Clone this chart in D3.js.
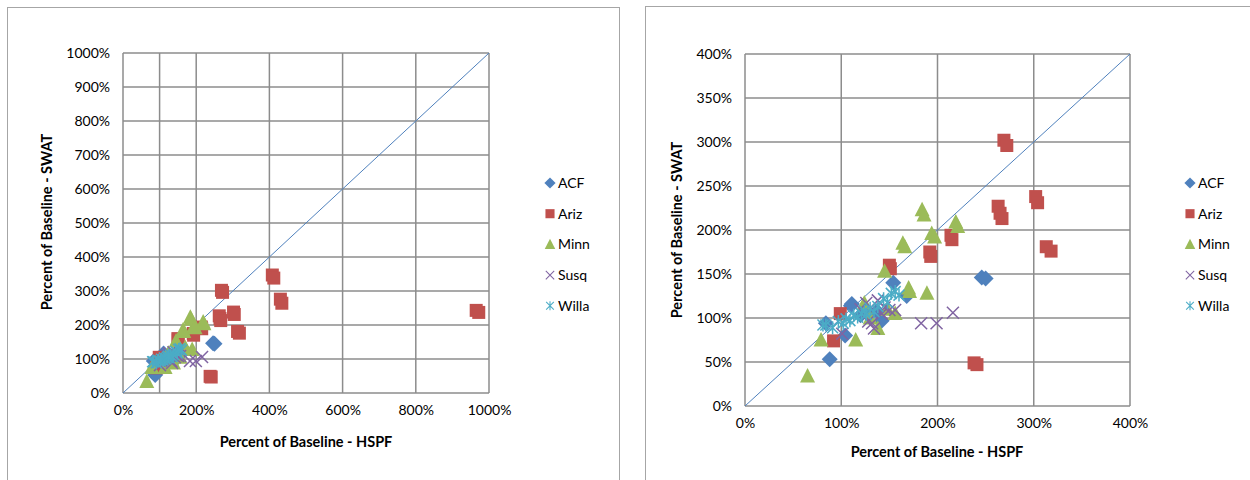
<!DOCTYPE html>
<html>
<head>
<meta charset="utf-8">
<script src="https://d3js.org/d3.v7.min.js"></script>
<style>
  body { margin: 0; background: #fff; }
  svg { font-family: Lato, "Open Sans", sans-serif; }
</style>
</head>
<body>
<svg id="chart" width="1250" height="480"></svg>
<script>
// values are percent of baseline, [HSPF, SWAT]
var seriesNames = ["ACF", "Ariz", "Minn", "Susq", "Willa"];
var seriesColors = ["#4F81BD", "#C0504D", "#9BBB59", "#8064A2", "#4BACC6"];

var acf = [[88,53],[84,94],[104,80],[111,116],[110,114],[154,140],[142,97],[137,108],[168,125],[246,146],[250,145],[120,103],[130,105]];
var ariz = [[269,302],[272,296],[302,238],[304,231],[263,227],[265,219],[267,213],[313,181],[318,176],[214,194],[215,189],[192,175],[193,170],[150,160],[151,156],[99,105],[92,74],[238,49],[241,47],[408,347],[412,338],[430,276],[434,264],[965,243],[972,237]];
var minn = [[65,34],[79,75],[115,75],[124,117],[145,153],[164,185],[166,181],[184,223],[186,217],[194,196],[197,192],[219,209],[221,204],[170,134],[171,130],[189,128],[138,88],[156,105],[130,100],[148,110]];
var susq = [[183,94],[199,94],[216,106],[132,94],[134,88],[150,109],[156,109],[142,105],[126,117],[101,82],[138,120],[120,110],[145,112],[128,96]];
var willa = [[81,92],[84,92],[91,89],[97,96],[105,99],[109,97],[113,103],[117,101],[121,105],[126,104],[130,111],[134,107],[138,113],[144,122],[148,118],[152,128],[156,130],[160,126],[102,94],[124,108]];

var leftXTicks = [0, 200, 400, 600, 800, 1000];
var leftXGrid = [0, 100, 200, 400, 600, 800, 1000];
var leftYTicks = [0, 100, 200, 300, 400, 500, 600, 700, 800, 900, 1000];
var rightXTicks = [0, 100, 200, 300, 400];
var rightYTicks = [0, 50, 100, 150, 200, 250, 300, 350, 400];

var allSeries = [acf, ariz, minn, susq, willa];
var svg = d3.select("#chart");

function markerPath(i) {
    if (i == 0) return "M0,-8L8,0L0,8L-8,0Z";
    if (i == 1) return "M-6.5,-6.5H6.5V6.5H-6.5Z";
    if (i == 2) return "M0,-8L7.5,6.5H-7.5Z";
    if (i == 3) return "M-6,-6L6,6M6,-6L-6,6";
    return "M-5.5,-5.5L5.5,5.5M5.5,-5.5L-5.5,5.5M0,-6.5V6.5";
}

function drawMarker(g, i) {
    var stroked = i >= 3;
    g.append("path")
        .attr("d", markerPath(i))
        .attr("fill", stroked ? "none" : seriesColors[i])
        .attr("stroke", stroked ? seriesColors[i] : "none")
        .attr("stroke-width", 1.5);
}

function drawChart(cfg) {
    var g = svg.append("g");

    g.append("rect")
        .attr("x", cfg.frame[0] + 0.5).attr("y", cfg.frame[1] + 0.5)
        .attr("width", cfg.frame[2]).attr("height", cfg.frame[3])
        .attr("fill", "#fff").attr("stroke", "#a6a6a6");

    var x = d3.scaleLinear().domain([0, cfg.max]).range([cfg.plot[0], cfg.plot[1]]);
    var y = d3.scaleLinear().domain([0, cfg.max]).range([cfg.plot[3], cfg.plot[2]]);

    g.selectAll(".hgrid").data(cfg.yTicks).join("line")
        .attr("x1", cfg.plot[0]).attr("x2", cfg.plot[1])
        .attr("y1", d => y(d)).attr("y2", d => y(d))
        .attr("stroke", "#8c8c8c").attr("stroke-width", 1.5);

    g.selectAll(".vgrid").data(cfg.xGrid).join("line")
        .attr("y1", cfg.plot[2]).attr("y2", cfg.plot[3])
        .attr("x1", d => x(d)).attr("x2", d => x(d))
        .attr("stroke", "#8c8c8c").attr("stroke-width", 1.5);

    var yAxis = d3.axisLeft(y).tickValues(cfg.yTicks).tickFormat(d => d + "%").tickSize(0).tickPadding(13);
    g.append("g").attr("transform", "translate(" + cfg.plot[0] + ",0)").call(yAxis)
        .call(a => a.select(".domain").remove())
        .selectAll("text").attr("font-size", 14).attr("fill", "#000").attr("font-family", "Lato, sans-serif");

    var xAxis = d3.axisBottom(x).tickValues(cfg.xTicks).tickFormat(d => d + "%").tickSize(0).tickPadding(12);
    g.append("g").attr("transform", "translate(0," + cfg.plot[3] + ")").call(xAxis)
        .call(a => a.select(".domain").remove())
        .selectAll("text").attr("font-size", 14).attr("fill", "#000").attr("font-family", "Lato, sans-serif");

    // 1:1 line
    g.append("line")
        .attr("x1", x(0)).attr("y1", y(0))
        .attr("x2", x(cfg.max)).attr("y2", y(cfg.max))
        .attr("stroke", "#4F81BD").attr("stroke-width", 1);

    allSeries.forEach(function (data, i) {
        var pts = data.filter(d => d[0] <= cfg.max && d[1] <= cfg.max);
        g.selectAll(".s" + i).data(pts).join("g")
            .attr("transform", d => "translate(" + x(d[0]) + "," + y(d[1]) + ")")
            .each(function () { drawMarker(d3.select(this), i) });
    });

    g.append("text")
        .attr("transform", "translate(" + cfg.yTitle[0] + "," + cfg.yTitle[1] + ") rotate(-90)")
        .attr("text-anchor", "middle").attr("font-weight", "bold").attr("font-size", 14.5)
        .text("Percent of Baseline - SWAT");

    g.append("text")
        .attr("x", cfg.xTitle[0]).attr("y", cfg.xTitle[1])
        .attr("text-anchor", "middle").attr("font-weight", "bold").attr("font-size", 14.5)
        .text("Percent of Baseline - HSPF");

    var legend = g.selectAll(".leg").data(seriesNames).join("g")
        .attr("transform", (d, i) => "translate(" + cfg.legend[0] + "," + (cfg.legend[1] + i * 30.7) + ")");
    legend.each(function (d, i) {
        var lg = d3.select(this);
        lg.append("g").attr("transform", "scale(0.7)").call(s => drawMarker(s, i));
        lg.append("text").attr("x", 8).attr("y", 5).attr("font-size", 14).text(d);
    });
}

drawChart({
    frame: [7, 7, 612, 480],
    plot: [123, 489, 53, 393],
    max: 1000,
    xTicks: leftXTicks, xGrid: leftXGrid, yTicks: leftYTicks,
    yTitle: [52, 222], xTitle: [306, 447],
    legend: [550, 183]
});

drawChart({
    frame: [645, 6, 610, 480],
    plot: [745, 1130, 54, 406],
    max: 400,
    xTicks: rightXTicks, xGrid: rightXTicks, yTicks: rightYTicks,
    yTitle: [682, 230], xTitle: [937, 457],
    legend: [1190, 183]
});
</script>
</body>
</html>
